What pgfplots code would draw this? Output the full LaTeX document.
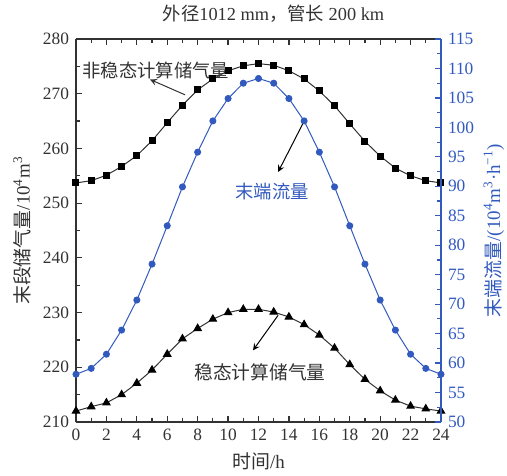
\documentclass[border=0pt]{standalone}
\usepackage{pgfplots}
\pgfplotsset{compat=1.18}
\usepackage{fontspec}
\setmainfont{Liberation Serif}
\newfontfamily\cjk{Noto Sans CJK SC}
\definecolor{myblue}{RGB}{50,90,190}
\definecolor{mygray}{RGB}{50,50,50}
\begin{document}
\begin{tikzpicture}[font=\fontsize{8.7}{10}\selectfont]
\useasboundingbox (-38bp,-27bp) rectangle (215.5bp,211bp);
\begin{axis}[
  scale only axis, width=182.5bp, height=191.5bp,
  at={(0,0)}, anchor=south west,
  xmin=0, xmax=24, ymin=210, ymax=280,
  axis y line*=left,
  axis line style={mygray, line width=0.8bp},
  xtick={0,2,...,24}, minor xtick={1,3,...,23},
  ytick={210,220,...,280}, minor ytick={215,225,...,275},
  tick style={mygray, line width=0.6bp},
  major tick length=3bp, minor tick length=1.8bp,
  tick label style={mygray, font=\fontsize{8.7}{10}\selectfont},
  /pgf/number format/assume math mode=true,
  xlabel={{\cjk 时间}/h},
  ylabel={{\cjk 末段储气量}/10\textsuperscript{4}m\textsuperscript{3}},
  xlabel style={font=\fontsize{9.5}{11}\selectfont, mygray, yshift=1bp},
  ylabel style={font=\fontsize{9.5}{11}\selectfont, mygray},
  ylabel shift=-1bp,
  clip=false,
]
\addplot[mygray, line width=0.5bp, mark=square*, mark size=1.5bp, mark options={black, solid}]
coordinates {
(0,253.7)(1,254.1)(2,255.1)(3,256.7)(4,258.7)(5,261.4)(6,264.7)(7,267.9)(8,270.7)
(9,272.7)(10,274.2)(11,275.1)(12,275.5)(13,275.2)(14,274.2)(15,272.7)(16,270.5)
(17,267.8)(18,264.5)(19,261.3)(20,258.6)(21,256.4)(22,255.0)(23,254.1)(24,253.7)};
\addplot[mygray, line width=0.5bp, mark=triangle*, mark size=2.1bp, mark options={black, solid}]
coordinates {
(0,212.0)(1,212.8)(2,213.5)(3,215.0)(4,217.1)(5,219.5)(6,222.4)(7,225.2)(8,227.1)
(9,228.8)(10,230.0)(11,230.6)(12,230.6)(13,230.1)(14,229.2)(15,227.8)(16,225.9)
(17,223.5)(18,220.5)(19,217.8)(20,215.7)(21,214.0)(22,212.9)(23,212.4)(24,212.0)};
\node[font=\fontsize{9.2}{10}\selectfont\cjk, mygray] at (axis cs:5.25,274.3) {非稳态计算储气量};
\draw[-stealth, mygray, line width=0.5bp] (axis cs:7.17,269.8) -- (axis cs:4.87,272.6);
\node[font=\fontsize{9.2}{10}\selectfont\cjk, myblue] at (axis cs:12.9,252.2) {末端流量};
\draw[-stealth, black, line width=0.5bp] (axis cs:14.93,264.6) -- (axis cs:13.29,255.7);
\node[font=\fontsize{9.4}{10}\selectfont\cjk, mygray] at (axis cs:12.1,219.1) {稳态计算储气量};
\draw[-stealth, black, line width=0.5bp] (axis cs:13.29,229.5) -- (axis cs:11.64,223.1);
\node[font=\fontsize{9.2}{10}\selectfont, mygray] at ([xshift=7.5bp,yshift=12.5bp]rel axis cs:0.5,1) {{\cjk 外径}1012 mm{\cjk ，管长} 200 km};
\end{axis}
\begin{axis}[
  scale only axis, width=182.5bp, height=191.5bp,
  at={(0,0)}, anchor=south west,
  xmin=0, xmax=24, ymin=50, ymax=115,
  axis y line*=right, axis x line=none,
  axis line style={myblue, line width=0.8bp},
  ytick={50,55,...,115}, minor ytick={52.5,57.5,...,112.5},
  tick style={myblue, line width=0.6bp},
  major tick length=3bp, minor tick length=1.8bp,
  tick label style={myblue, font=\fontsize{8.7}{10}\selectfont},
  /pgf/number format/assume math mode=true,
  ylabel={{\cjk 末端流量}/(10\textsuperscript{4}m\textsuperscript{3}·h\textsuperscript{−1})},
  ylabel style={font=\fontsize{9.5}{11}\selectfont, myblue},
  ylabel shift=-2bp,
]
\addplot[myblue, line width=0.5bp, mark=*, mark size=1.5bp, mark options={myblue, solid}]
coordinates {
(0,58.1)(1,59.1)(2,61.5)(3,65.6)(4,70.7)(5,76.8)(6,83.3)(7,89.9)(8,95.8)
(9,101.1)(10,104.9)(11,107.5)(12,108.3)(13,107.5)(14,104.9)(15,101.1)(16,95.8)
(17,89.9)(18,83.3)(19,76.8)(20,70.7)(21,65.6)(22,61.5)(23,59.1)(24,58.1)};
\end{axis}
\end{tikzpicture}
\end{document}
